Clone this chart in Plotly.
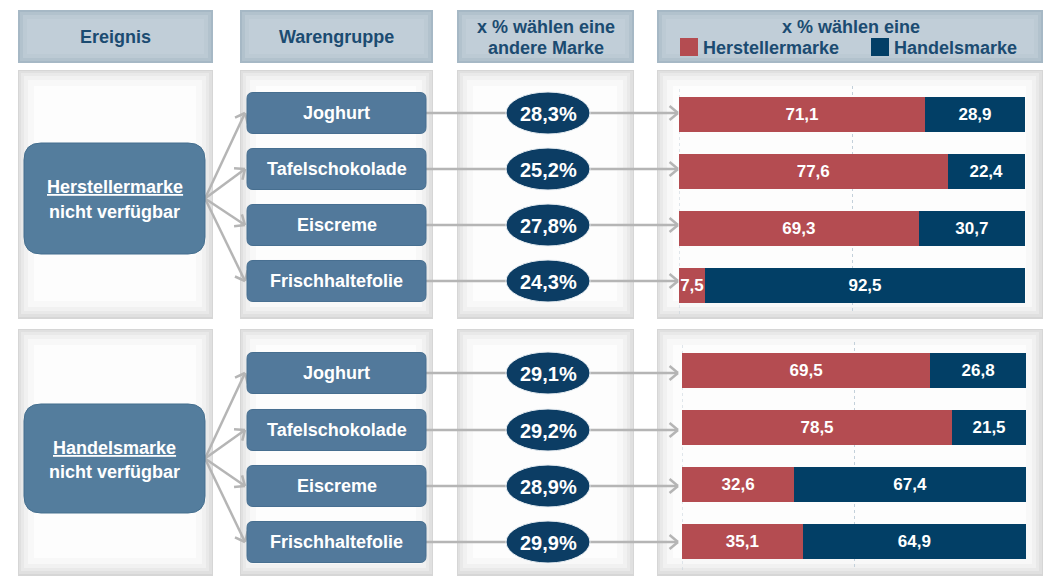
import math
import plotly.graph_objects as go

# ---------------- data ----------------
col_headers = ["Ereignis", "Warengruppe", "x % wählen eine", "andere Marke", "x % wählen eine"]
legend_labels = ["Herstellermarke", "Handelsmarke"]
events = ["Herstellermarke", "Handelsmarke"]
event_suffix = "nicht verfügbar"
categories = ["Joghurt", "Tafelschokolade", "Eiscreme", "Frischhaltefolie"]

switch_pct_ev1 = [28.3, 25.2, 27.8, 24.3]
switch_pct_ev2 = [29.1, 29.2, 28.9, 29.9]

hersteller_ev1 = [71.1, 77.6, 69.3, 7.5]
handel_ev1 = [28.9, 22.4, 30.7, 92.5]
hersteller_ev2 = [69.5, 78.5, 32.6, 35.1]
handel_ev2 = [26.8, 21.5, 67.4, 64.9]

# ---------------- styling ----------------
W, H = 1047, 577
FONT = "Liberation Sans, Arial, sans-serif"
RED = "#b44c51"
NAVY = "#023f66"
HEAD_TXT = "#1b4b71"
BOX = "#547d9d"
BOX_LINE = "#456f8f"
ELL = "#0c3d64"
ARROW = "#b5b5b5"
GRID = "#c3d0da"


def X(px):
    return px / W


def Y(py):
    return 1 - py / H


def fmt(v, pct=False):
    s = f"{v:.1f}".replace(".", ",")
    return s + "%" if pct else s


shapes, annots = [], []


def rect(x0, y0, x1, y1, fill, layer="below"):
    shapes.append(dict(type="rect", xref="paper", yref="paper", x0=X(x0), x1=X(x1),
                       y0=Y(y1), y1=Y(y0), fillcolor=fill, line=dict(width=0), layer=layer))


def rrect(x0, y0, x1, y1, r, fill, line, lw=1, layer="above"):
    def P(x, y):
        return f"{X(x):.6f},{Y(y):.6f}"
    path = (f"M{P(x0 + r, y0)} L{P(x1 - r, y0)} Q{P(x1, y0)} {P(x1, y0 + r)} "
            f"L{P(x1, y1 - r)} Q{P(x1, y1)} {P(x1 - r, y1)} L{P(x0 + r, y1)} "
            f"Q{P(x0, y1)} {P(x0, y1 - r)} L{P(x0, y0 + r)} Q{P(x0, y0)} {P(x0 + r, y0)} Z")
    shapes.append(dict(type="path", xref="paper", yref="paper", path=path,
                       fillcolor=fill, line=dict(color=line, width=lw), layer=layer))


def line(x0, y0, x1, y1, color=ARROW, w=2.5, layer="below"):
    shapes.append(dict(type="line", xref="paper", yref="paper", x0=X(x0), y0=Y(y0),
                       x1=X(x1), y1=Y(y1), line=dict(color=color, width=w), layer=layer))


def arrow(x0, y0, x1, y1, head=True, layer="below"):
    line(x0, y0, x1, y1, layer=layer)
    if head:
        d = math.atan2(y1 - y0, x1 - x0)
        L = 11
        for a in (math.radians(40), -math.radians(40)):
            line(x1 - L * math.cos(d + a), y1 - L * math.sin(d + a), x1, y1, layer=layer)


def text(x, y, s, size, color, xanchor="center"):
    annots.append(dict(xref="paper", yref="paper", x=X(x), y=Y(y), text=s, showarrow=False,
                       xanchor=xanchor, yanchor="middle",
                       font=dict(family=FONT, size=size, color=color)))


def header(x0, x1):
    rect(x0, 10, x1, 63, "#a6b8c5")
    rect(x0 + 2, 12, x1 - 2, 61, "#b2c2cd")
    rect(x0 + 5, 15, x1 - 5, 58, "#bccad4")
    rect(x0 + 9, 19, x1 - 9, 54, "#c1ced8")


def panel(x0, y0, x1, y1):
    rect(x0, y0, x1, y1, "#d6d6d6")
    rect(x0 + 1, y0 + 1, x1 - 1, y1 - 2, "#e0e0e0")
    rect(x0 + 3, y0 + 3, x1 - 4, y1 - 5, "#e9e9e9")
    rect(x0 + 6, y0 + 6, x1 - 7, y1 - 8, "#f1f1f1")
    rect(x0 + 10, y0 + 10, x1 - 11, y1 - 12, "#f8f8f8")
    rect(x0 + 16, y0 + 16, x1 - 17, y1 - 18, "#fdfdfd")


cols = [(18, 213), (240, 433), (457, 634), (657, 1043)]

# headers
for x0, x1 in cols:
    header(x0, x1)
text(115.5, 37, f"<b>{col_headers[0]}</b>", 18, HEAD_TXT)
text(336.5, 37, f"<b>{col_headers[1]}</b>", 18, HEAD_TXT)
text(545.5, 27, f"<b>{col_headers[2]}</b>", 18, HEAD_TXT)
text(545.5, 48, f"<b>{col_headers[3]}</b>", 18, HEAD_TXT)
text(851, 27, f"<b>{col_headers[4]}</b>", 18, HEAD_TXT)
# legend
rect(680, 38, 698, 56, RED, layer="above")
text(701, 48, f"<b>{legend_labels[0]}</b>", 18, HEAD_TXT, xanchor="left")
rect(871, 38, 889, 56, NAVY, layer="above")
text(892, 48, f"<b>{legend_labels[1]}</b>", 18, HEAD_TXT, xanchor="left")

sections = [
    dict(py=(70, 319), box=(143, 254), rows=[113, 169, 225, 281],
         pct=switch_pct_ev1, ev=events[0]),
    dict(py=(329, 576), box=(404, 513), rows=[373, 430, 486, 542],
         pct=switch_pct_ev2, ev=events[1]),
]

for s in sections:
    for x0, x1 in cols:
        panel(x0, s["py"][0], x1, s["py"][1])

for s in sections:
    by0, by1 = s["box"]
    bc = (by0 + by1) / 2
    for rc in s["rows"]:
        arrow(205, bc, 245, rc)
    for rc in s["rows"]:
        arrow(426, rc, 678, rc)
    rrect(24, by0, 205, by1, 17, BOX, BOX_LINE)
    text(114.5, bc - 11, f"<b><u>{s['ev']}</u></b>", 18, "white")
    text(114.5, bc + 13, f"<b>{event_suffix}</b>", 18, "white")
    for rc, cat, p in zip(s["rows"], categories, s["pct"]):
        rrect(247, rc - 20.5, 426, rc + 20.5, 6, "#52799b", "#476f90")
        text(336.5, rc, f"<b>{cat}</b>", 18, "white")
        shapes.append(dict(type="circle", xref="paper", yref="paper", x0=X(506), x1=X(590),
                           y0=Y(rc + 21), y1=Y(rc - 21), fillcolor=ELL,
                           line=dict(color="#e8eef3", width=1), layer="above"))
        text(548, rc + 1, f"<b>{fmt(p, True)}</b>", 20, "white")

# dotted gridline at 0 on each bar axis (drawn through the axis scale)
for xa, ya in (("x2", "y2"), ("x3", "y3")):
    shapes.append(dict(type="line", xref=xa, yref=f"{ya} domain", x0=0, x1=0, y0=0, y1=1,
                       line=dict(color=GRID, width=1, dash="dot"), layer="below"))

# ---------------- bar charts ----------------
fig = go.Figure()
bar_sets = [
    (hersteller_ev1, handel_ev1, "x2", "y2"),
    (hersteller_ev2, handel_ev2, "x3", "y3"),
]
for hm, ha, xa, ya in bar_sets:
    for vals, color, name in ((hm, RED, legend_labels[0]), (ha, NAVY, legend_labels[1])):
        fig.add_trace(go.Bar(
            y=categories, x=vals, orientation="h", name=name, xaxis=xa, yaxis=ya,
            marker=dict(color=color, line=dict(width=0)),
            text=[f"<b>{fmt(v)}</b>" for v in vals], textposition="inside",
            insidetextanchor="middle", constraintext="none", textangle=0,
            textfont=dict(family=FONT, size=17, color="white"),
            showlegend=False, hoverinfo="skip"))

grid = dict(range=[0, 100], tickvals=[0, 50], showticklabels=False, showgrid=True,
            gridcolor=GRID, griddash="dot", gridwidth=1, zeroline=False,
            showline=False, fixedrange=True)
cat_ax = dict(type="category", categoryorder="array", categoryarray=categories,
              autorange="reversed", showticklabels=False, showgrid=False,
              zeroline=False, showline=False, fixedrange=True)

fig.update_layout(
    width=W, height=H, margin=dict(l=0, r=0, t=0, b=0),
    paper_bgcolor="white", plot_bgcolor="rgba(0,0,0,0)",
    barmode="stack", barnorm="percent", bargap=0.386,
    xaxis=dict(visible=False, domain=[0, 0.01]), yaxis=dict(visible=False, domain=[0, 0.01]),
    xaxis2=dict(domain=[X(679), X(1025)], anchor="y2", **grid),
    yaxis2=dict(domain=[Y(314), Y(86)], anchor="x2", **cat_ax),
    xaxis3=dict(domain=[X(682), X(1026)], anchor="y3", **grid),
    yaxis3=dict(domain=[Y(570), Y(342)], anchor="x3", **cat_ax),
    shapes=shapes, annotations=annots, showlegend=False,
    font=dict(family=FONT),
)

fig.write_html("out.html", config={"displayModeBar": False},
               post_script="document.body.style.margin='0';document.body.style.overflow='hidden';")
